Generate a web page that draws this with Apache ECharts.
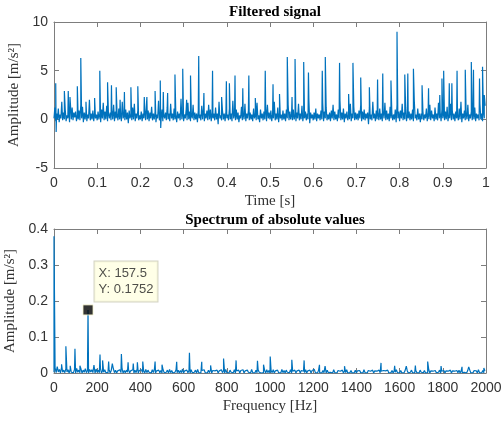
<!DOCTYPE html>
<html>
<head>
<meta charset="utf-8">
<script src="https://cdn.jsdelivr.net/npm/echarts@6/dist/echarts.min.js"></script>
<style>
  html, body { margin: 0; padding: 0; background: #fff; }
  #chart { width: 504px; height: 421px; }
</style>
</head>
<body>
<div id="chart"></div>
<script>
// ---- filtered signal (top) ----
// spikes: time [s] and amplitude
var sigSpikeT = [0.004, 0.005, 0.024, 0.033, 0.037, 0.054, 0.062, 0.074, 0.094, 0.106, 0.124, 0.133, 0.144, 0.153,
  0.163, 0.178, 0.194, 0.209, 0.215, 0.234, 0.246, 0.247, 0.253, 0.263, 0.280, 0.298, 0.307, 0.316, 0.335,
  0.347, 0.367, 0.388, 0.399, 0.406, 0.419, 0.437, 0.451, 0.466, 0.489, 0.507, 0.522, 0.540, 0.551, 0.558,
  0.578, 0.589, 0.621, 0.628, 0.661, 0.682, 0.692, 0.710, 0.730, 0.749, 0.761, 0.780, 0.794, 0.812, 0.819,
  0.832, 0.852, 0.867, 0.893, 0.898, 0.902, 0.915, 0.921, 0.933, 0.952, 0.966, 0.971, 0.985, 0.992, 0.996];
var sigSpikeA = [3.7, -1.3, 2.9, 2.9, 2.3, 3.4, 6.3, 1.8, 2.2, 5.0, 3.8, 3.5, 3.3, 2.0,
  2.8, 3.3, 3.4, 2.3, 2.3, 2.9, 4.0, -0.9, 2.8, 2.7, 4.6, 5.2, 2.0, 4.5, 6.5,
  2.7, 5.0, 2.3, 3.9, 3.7, 4.5, 3.2, 4.5, 2.2, 5.0, 3.6, 2.6, 6.4, 2.3, 6.2,
  5.9, 4.8, 5.0, 6.4, 5.8, 2.6, 5.8, 4.3, 3.3, 4.1, 4.7, 4.0, 9.0, 4.6, 4.7,
  5.2, 3.5, 3.2, 2.5, 4.2, 5.0, 3.7, 3.7, 5.0, 5.1, 5.9, 5.1, 4.2, 5.4, 2.5];
// baseline noise band in tenths of m/s^2, one value every 2 ms
var sigStep = 0.002;
var sigNoiseTenths = [
  1,12,-2,6,0,11,-3,5,1,18,-1,7,0,10,-2,4,1,8,-3,16,0,12,-1,7,2,
  8,-2,5,0,9,-1,15,1,13,-3,7,0,8,-2,5,1,20,-1,6,0,9,-2,7,1,5,
  -1,8,0,6,-3,10,1,17,-1,8,0,14,-2,6,1,7,-1,9,0,15,-2,8,1,6,-1,
  11,0,6,-2,18,1,5,-1,10,0,7,-4,9,1,5,-1,12,0,16,-2,6,1,9,-1,4,
  0,8,-2,6,1,10,-1,15,0,9,-2,7,1,13,-1,6,0,8,-3,5,1,19,-1,6,0,
  10,-2,5,1,7,-1,12,0,6,-2,16,1,6,-1,11,0,5,-3,8,1,6,-1,21,0,7,
  -2,5,1,10,-1,17,0,8,-2,4,1,15,-1,7,0,6,-3,9,1,5,-1,14,0,11,-2,
  6,1,9,-1,15,0,10,-2,7,1,6,-1,12,0,6,-5,18,1,4,-1,9,0,6,-2,8,
  1,5,-1,11,0,6,-2,19,1,6,-1,10,0,7,-3,4,1,13,-1,6,0,16,-2,6,1,
  9,-1,7,0,5,-2,11,1,6,-1,17,0,4,-3,10,1,6,-1,8,0,12,-2,15,1,7,
  0,9,-2,5,1,18,-1,6,0,12,-3,7,1,5,-1,9,0,6,-2,10,1,15,-1,8,0,
  6,-1,10,0,5,-2,7,1,16,-1,6,0,14,-2,5,1,8,-1,6,0,20,-4,7,1,5,
  -1,7,0,11,-2,6,1,5,-1,9,0,17,-2,8,1,12,-1,5,0,7,-2,9,1,15,-1,
  8,0,5,-2,10,1,19,-1,7,0,11,-3,6,1,8,-1,5,0,16,-2,6,1,13,-1,7,
  0,6,-1,9,1,15,-2,8,0,10,-1,6,1,7,-5,12,0,5,-1,18,1,6,-2,9,0,
  7,-1,11,0,6,-2,8,1,17,-1,9,0,6,-2,13,1,7,-1,5,0,10,-3,15,1,8,
  -2,9,1,16,-1,7,0,12,-2,5,1,8,-1,6,0,10,-2,19,1,5,-1,11,0,6,-3,
  6,0,8,-1,5,1,11,-2,7,0,15,-1,9,1,5,-2,12,0,6,-1,17,1,7,-2,10,
  1,6,-1,8,0,13,-2,5,1,16,-1,9,0,6,-2,8,1,5,-1,11,0,18,-3,6,1,
  9,-1,6,0,15,-2,5,1,8,-1,7,0,12,-2,6,1,5,-1,16,0,6,-2,8,1,14
];

// ---- spectrum (bottom) ----
var specPeakF = [0, 18, 35, 55, 75, 97, 120, 157.5, 185, 213, 225, 253, 270, 312, 343, 367, 386, 411, 468, 500,
  568, 627, 684, 725, 785, 843, 942, 970, 1001, 1101, 1158, 1229, 1255, 1345, 1514, 1577, 1631, 1673, 1730,
  1792, 1889, 1920, 1990];
var specPeakA = [0.38, 0.022, 0.024, 0.074, 0.020, 0.067, 0.020, 0.1752, 0.022, 0.051, 0.035, 0.032, 0.026, 0.053, 0.030, 0.026, 0.030, 0.032, 0.032, 0.023,
  0.031, 0.056, 0.031, 0.021, 0.040, 0.035, 0.034, 0.023, 0.046, 0.037, 0.035, 0.023, 0.019, 0.019, 0.028, 0.020, 0.019, 0.021, 0.032,
  0.019, 0.017, 0.017, 0.014];
// noise floor in thousandths, one value every 5 Hz
var specStep = 5;
var specNoiseMilli = [
  2,14,1,18,3,10,0,16,2,8,1,12,3,9,0,11,2,7,1,10,0,13,2,8,1,
  11,0,8,2,12,1,7,0,10,3,9,1,6,0,11,2,8,1,13,0,7,2,9,1,6,
  1,10,0,7,2,11,1,8,0,6,2,9,1,12,0,7,1,8,2,10,0,6,1,9,0,
  8,1,11,0,7,2,9,1,6,0,10,1,8,2,7,0,9,1,11,0,6,2,8,1,7,
  0,9,1,6,2,8,0,10,1,7,0,5,2,9,1,8,0,7,1,11,0,6,2,8,1,
  7,0,9,1,6,2,8,0,10,1,5,0,7,2,9,1,6,0,8,1,10,0,7,2,6,
  1,8,0,6,2,9,1,7,0,10,1,5,0,8,2,7,1,9,0,6,1,8,0,7,2,
  9,0,6,1,8,2,7,0,10,1,6,0,8,1,9,2,7,0,5,1,8,0,9,1,7,
  0,7,1,9,0,6,2,8,1,5,0,10,1,7,0,8,2,6,1,9,0,5,1,8,0,
  6,1,8,0,7,2,5,1,9,0,6,1,8,0,7,2,10,1,6,0,8,1,5,0,7,
  1,6,0,8,1,5,2,7,0,9,1,6,0,7,2,5,1,8,0,6,1,9,0,5,1,
  7,0,5,1,8,0,6,2,7,1,5,0,9,1,6,0,7,2,5,1,8,0,6,1,5,
  0,8,1,5,0,7,2,6,1,8,0,5,1,7,0,6,2,9,1,5,0,7,1,6,0,
  6,1,7,0,5,2,8,1,6,0,7,1,5,0,8,2,6,1,7,0,5,1,9,0,6,
  1,5,0,7,1,6,2,8,0,5,1,7,0,6,2,5,1,8,0,6,1,5,0,7,1,
  8,0,6,1,5,2,7,0,6,1,8,0,5,1,7,2,6,0,9,1,5,0,7,1,6
];
var tipF = 157.5, tipA = 0.1752;

function mergeSeries(step, noise, scale, px, py) {
  var pts = [];
  for (var i = 0; i < noise.length; i++) pts.push([+(i * step).toFixed(4), noise[i] * scale]);
  for (var j = 0; j < px.length; j++) pts.push([px[j], py[j]]);
  pts.sort(function (a, b) { return a[0] - b[0]; });
  return pts;
}
var sigData = mergeSeries(sigStep, sigNoiseTenths, 0.1, sigSpikeT, sigSpikeA);
var specData = mergeSeries(specStep, specNoiseMilli, 0.001, specPeakF, specPeakA);

var axisCol = '#7d7d7d';
var labelCol = '#333';
var sans = 'Liberation Sans';
var serif = 'Liberation Serif';
function plain(v) { return String(+v.toFixed(3)); }

function mainX(grid, min, max, step, name) {
  return {
    gridIndex: grid, type: 'value', min: min, max: max, interval: step, position: 'bottom',
    axisLine: { show: true, onZero: false, lineStyle: { color: axisCol, width: 1 } },
    axisTick: { show: true, inside: true, length: 5, lineStyle: { color: axisCol } },
    axisLabel: { color: labelCol, fontSize: 14, fontFamily: sans, margin: 8, formatter: plain },
    splitLine: { show: false },
    name: name, nameLocation: 'middle', nameGap: 26,
    nameTextStyle: { color: '#333', fontSize: 15, fontFamily: serif }
  };
}
function boxX(grid, min, max, step) {
  return {
    gridIndex: grid, type: 'value', min: min, max: max, interval: step, position: 'top',
    axisLine: { show: true, onZero: false, lineStyle: { color: axisCol, width: 1 } },
    axisTick: { show: true, inside: true, length: 5, lineStyle: { color: axisCol } },
    axisLabel: { show: false }, splitLine: { show: false }
  };
}
function mainY(grid, min, max, step) {
  return {
    gridIndex: grid, type: 'value', min: min, max: max, interval: step, position: 'left',
    axisLine: { show: true, onZero: false, lineStyle: { color: axisCol, width: 1 } },
    axisTick: { show: true, inside: true, length: 5, lineStyle: { color: axisCol } },
    axisLabel: { color: labelCol, fontSize: 14, fontFamily: sans, margin: 6, formatter: plain },
    splitLine: { show: false },
    name: 'Amplitude [m/s²]', nameLocation: 'middle', nameGap: 22, nameRotate: 90,
    nameTextStyle: { color: '#333', fontSize: 15, fontFamily: serif }
  };
}
function boxY(grid, min, max, step) {
  return {
    gridIndex: grid, type: 'value', min: min, max: max, interval: step, position: 'right',
    axisLine: { show: true, onZero: false, lineStyle: { color: axisCol, width: 1 } },
    axisTick: { show: true, inside: true, length: 5, lineStyle: { color: axisCol } },
    axisLabel: { show: false }, splitLine: { show: false }
  };
}

var chart = echarts.init(document.getElementById('chart'));
chart.setOption({
  animation: false,
  backgroundColor: '#fff',
  title: [
    { text: 'Filtered signal', left: 270, top: 0, textAlign: 'center',
      textStyle: { fontFamily: serif, fontWeight: 'bold', fontSize: 15, color: '#000' } },
    { text: 'Spectrum of absolute values', left: 270, top: 208, textAlign: 'center',
      textStyle: { fontFamily: serif, fontWeight: 'bold', fontSize: 15, color: '#000' } }
  ],
  grid: [
    { left: 54, right: 18, top: 22, height: 146, outerBoundsMode: 'none' },
    { left: 54, right: 18, top: 229, height: 144, outerBoundsMode: 'none' }
  ],
  xAxis: [
    mainX(0, 0, 1, 0.1, 'Time [s]'), boxX(0, 0, 1, 0.1),
    mainX(1, 0, 2000, 200, 'Frequency [Hz]'), boxX(1, 0, 2000, 200)
  ],
  yAxis: [
    mainY(0, -5, 10, 5), boxY(0, -5, 10, 5),
    mainY(1, 0, 0.4, 0.1), boxY(1, 0, 0.4, 0.1)
  ],
  series: [
    { type: 'line', xAxisIndex: 0, yAxisIndex: 0, data: sigData, showSymbol: false,
      lineStyle: { color: '#0072BD', width: 1.2 }, silent: true },
    { type: 'line', xAxisIndex: 2, yAxisIndex: 2, data: specData, showSymbol: false,
      lineStyle: { color: '#0072BD', width: 1.2 }, silent: true },
    { type: 'scatter', xAxisIndex: 2, yAxisIndex: 2, data: [[tipF, tipA]],
      symbol: 'rect', symbolSize: 10, z: 10,
      itemStyle: { color: '#000', borderColor: '#f3f0c8', borderWidth: 1 },
      label: {
        show: true, position: [12, -43], align: 'left', verticalAlign: 'top',
        formatter: function (p) { return 'X: ' + p.value[0] + '\nY: ' + p.value[1]; },
        fontFamily: sans, fontSize: 13, color: '#222', lineHeight: 16,
        backgroundColor: '#ffffe1', borderColor: '#c8c8b4', borderWidth: 1, padding: [4, 4, 4, 4]
      }
    }
  ]
});
</script>
</body>
</html>
